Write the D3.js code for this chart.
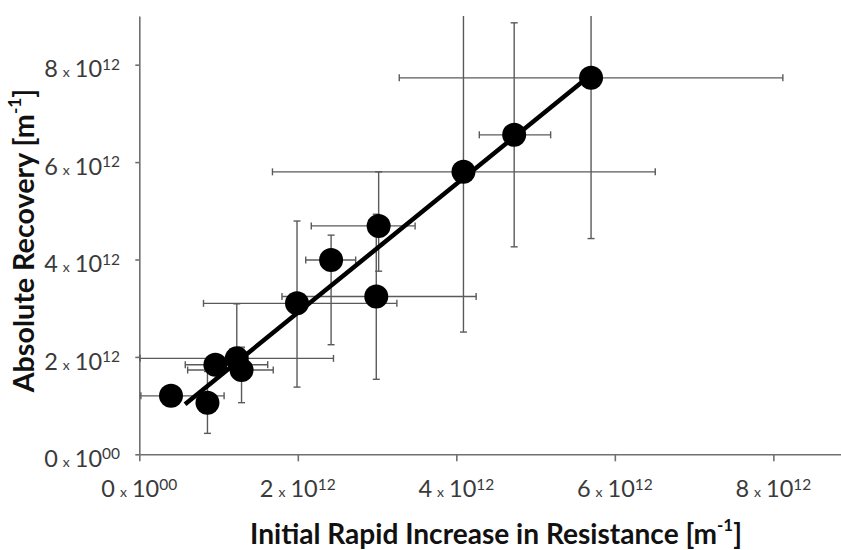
<!DOCTYPE html>
<html><head><meta charset="utf-8">
<script src="https://cdn.jsdelivr.net/npm/d3@7"></script>
<style>body{margin:0;background:#fff} svg{display:block}</style>
</head><body>
<svg id="c" width="841" height="550"></svg>
<script>
// values in units of 1e12 m^-1
const pointX = [0.40, 0.86, 0.96, 1.23, 1.29, 1.99, 2.42, 3.02, 2.99, 4.09, 4.73, 5.70];
const pointY = [1.20, 1.06, 1.84, 1.97, 1.73, 3.10, 3.99, 4.69, 3.24, 5.80, 6.56, 7.73];
const xLow   = [0.02, null, 0.58, 0.01, 0.61, 0.81, 2.10, 2.17, 1.80, 1.68, 4.29, 3.28];
const xHigh  = [1.07, null, 1.62, 2.45, 1.69, 3.25, 2.73, 3.48, 4.25, 6.51, 5.19, 8.12];
const yLow   = [null, 0.43, null, 1.75, 1.06, 1.38, 2.25, 3.76, 1.54, 2.51, 4.26, 4.43];
const yHigh  = [null, 1.70, null, 3.09, 2.20, 4.79, 4.50, 5.80, 4.93, 9.09, 8.86, 11.03];
const fitX = [0.577, 5.59];
const fitY = [1.03, 7.65];
const xTicks = [0, 2, 4, 6, 8];
const yTicks = [0, 2, 4, 6, 8];
const tickMantissa = ["0", "2", "4", "6", "8"];
const tickExponent = ["00", "12", "12", "12", "12"];
const xTitle = "Initial Rapid Increase in Resistance [m";
const yTitle = "Absolute Recovery [m";

const svg = d3.select("#c");
const x = d3.scaleLinear().domain([0, 9]).range([139.3, 852.6]);
const y = d3.scaleLinear().domain([0, 9]).range([454.3, 16]);
const axisColor = "#707070";
const barColor = "#5a5a5a";
const FONT = "Lato, 'Open Sans', sans-serif";

// axes
const gx = svg.append("g").attr("transform", `translate(0,${y(0)})`)
  .call(d3.axisBottom(x).tickValues(xTicks).tickSize(7).tickSizeOuter(0).tickFormat(""));
const gy = svg.append("g").attr("transform", `translate(${x(0)},0)`)
  .call(d3.axisLeft(y).tickValues(yTicks).tickSize(4).tickSizeOuter(0).tickFormat(""));
[gx, gy].forEach(g => {
  g.selectAll("path,line").attr("stroke", axisColor).attr("stroke-width", 1.6);
});

function sciLabel(sel) {
  sel.attr("font-family", FONT).attr("font-size", 23.5).attr("fill", "#3a3a3a");
  sel.append("tspan").text((d, i) => tickMantissa[i]);
  sel.append("tspan").attr("dx", 5).attr("font-size", 14).text("x");
  sel.append("tspan").attr("dx", 5).attr("font-size", 23.5).text("10");
  sel.append("tspan").attr("dy", -7.5).attr("font-size", 15.5).text((d, i) => tickExponent[i]);
}
svg.append("g").selectAll("text").data(xTicks).join("text")
  .attr("x", d => x(d)).attr("y", 497).attr("text-anchor", "middle").call(sciLabel);
svg.append("g").selectAll("text").data(yTicks).join("text")
  .attr("x", 120).attr("y", d => y(d) + 12.6).attr("text-anchor", "end").call(sciLabel);

// error bars
const cap = 3.5;
const eb = svg.append("g").attr("stroke", barColor).attr("stroke-width", 1.4).attr("fill", "none");
pointX.forEach((px, i) => {
  const cy = y(pointY[i]), cx = x(px);
  if (xLow[i] !== null) {
    const a = x(xLow[i]), b = x(xHigh[i]);
    eb.append("line").attr("x1", a).attr("x2", b).attr("y1", cy).attr("y2", cy);
    [a, b].forEach(e => eb.append("line").attr("x1", e).attr("x2", e).attr("y1", cy - cap).attr("y2", cy + cap));
  }
  if (yLow[i] !== null) {
    const lo = Math.min(yLow[i], 9), hi = Math.min(yHigh[i], 9);
    const a = y(lo), b = y(hi);
    eb.append("line").attr("x1", cx).attr("x2", cx).attr("y1", a).attr("y2", b);
    [[yLow[i], a], [yHigh[i], b]].forEach(([v, e]) => {
      if (v <= 9) eb.append("line").attr("x1", cx - cap).attr("x2", cx + cap).attr("y1", e).attr("y2", e);
    });
  }
});

// fit line
svg.append("path")
  .datum(fitX.map((v, i) => [v, fitY[i]]))
  .attr("d", d3.line().x(d => x(d[0])).y(d => y(d[1])))
  .attr("stroke", "#000").attr("stroke-width", 4.5).attr("fill", "none");

// points
svg.append("g").selectAll("circle").data(pointX).join("circle")
  .attr("cx", d => x(d)).attr("cy", (d, i) => y(pointY[i])).attr("r", 12).attr("fill", "#000");

// titles
function title(sel, txt) {
  sel.attr("font-family", FONT).attr("font-weight", "bold").attr("font-size", 25)
     .attr("fill", "#111").attr("text-anchor", "middle");
  sel.append("tspan").text(txt);
  sel.append("tspan").attr("font-size", "0.6em").attr("dy", "-0.75em").text("-1");
  sel.append("tspan").attr("dy", "0.45em").text("]");
}
function fitWidth(sel, target) {
  const w = sel.node().getBBox().width;
  const fs = parseFloat(sel.attr("font-size"));
  sel.attr("font-size", fs * target / w);
}
const tx = svg.append("text").attr("x", 496).attr("y", 544).call(title, xTitle);
fitWidth(tx, 492);
const ty = svg.append("text").attr("transform", "translate(34,240.5) rotate(-90)").call(title, yTitle);
fitWidth(ty, 305);
</script>
</body></html>
